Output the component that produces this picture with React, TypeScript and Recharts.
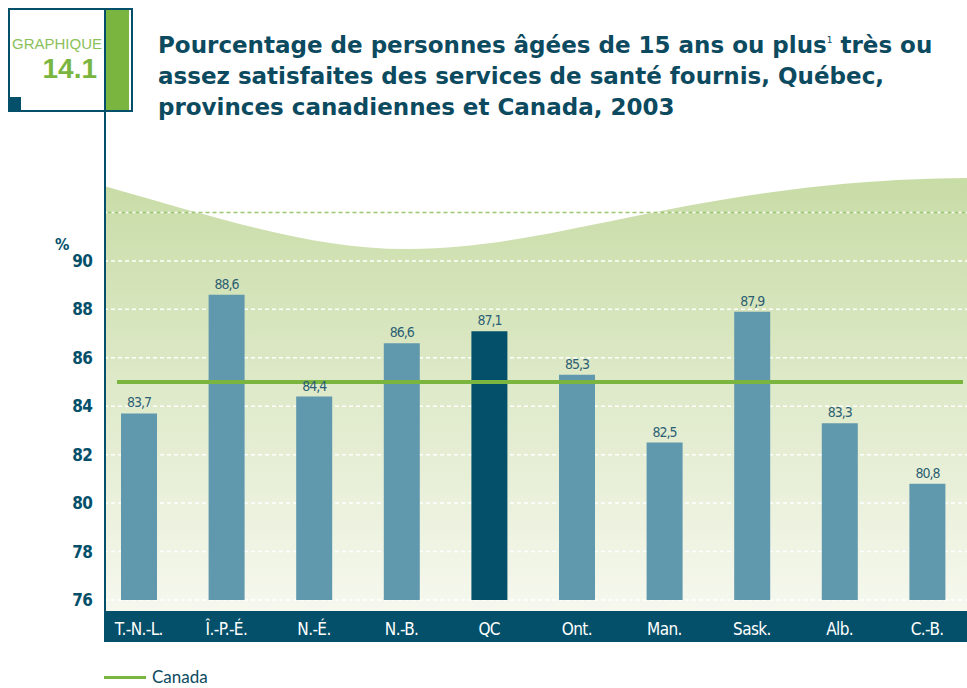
import React from "react";
import { ComposedChart, Bar, XAxis, YAxis, CartesianGrid, ReferenceLine, LabelList, Cell } from "recharts";

const categories = ["T.-N.-L.", "Î.-P.-É.", "N.-É.", "N.-B.", "QC", "Ont.", "Man.", "Sask.", "Alb.", "C.-B."];
const satisfied = [83.7, 88.6, 84.4, 86.6, 87.1, 85.3, 82.5, 87.9, 83.3, 80.8];
const CANADA = 85;
const HIGHLIGHT = "QC";
const yTicks = [76, 78, 80, 82, 84, 86, 88, 90, 92];

const data = categories.map((name, i) => ({ name, value: satisfied[i] }));

const DARK = "#04506a";
const TITLE = "#0c4a60";
const BAR = "#6098ad";
const GREEN = "#79b53f";
const narrow = "'DejaVu Sans Condensed', 'DejaVu Sans', sans-serif";
const humanist = "'DejaVu Sans', sans-serif";

const fmt = (v: number) => v.toFixed(1).replace(".", ",");

function CategoryTick(props: any) {
    const { x, y, payload } = props;
    return (
        <text x={x} y={y + 35} textAnchor="middle" fill="#ffffff" fontSize={17} letterSpacing={-0.6} fontFamily={narrow}>
            {payload.value}
        </text>
    );
}

export default function App() {
    return (
        <div style={{ position: "absolute", left: 0, top: 0, width: 967, height: 688, overflow: "hidden", background: "#fff" }}>
            {/* backdrop: wave + category band */}
            <svg width={967} height={688} style={{ position: "absolute", left: 0, top: 0 }}>
                <defs>
                    <linearGradient id="wave" x1="0" y1="178" x2="0" y2="611" gradientUnits="userSpaceOnUse">
                        <stop offset="0%" stopColor="#c8dca6" />
                        <stop offset="100%" stopColor="#f6f8ee" />
                    </linearGradient>
                </defs>
                <path d="M104,186 C230,222 320,250 410,249 C560,249 700,180 967,178 L967,611 L104,611 Z" fill="url(#wave)" />
                <rect x={104} y={611} width={863} height={31} fill={DARK} />
            </svg>

            <div style={{ position: "absolute", left: 0, top: 0 }}>
                <ComposedChart width={967} height={688} data={data} margin={{ top: 164, right: 0, bottom: 46, left: 0 }}>
                    <CartesianGrid horizontal vertical={false} stroke="#ffffff" strokeDasharray="4 3" strokeWidth={1.5} />
                    <ReferenceLine y={92} stroke="#9cc66f" strokeDasharray="4 3" strokeDashoffset={3.5} strokeWidth={1.5} />
                    <XAxis
                        dataKey="name"
                        axisLine={false}
                        tickLine={false}
                        tickSize={0}
                        tickMargin={0}
                        height={42}
                        padding={{ left: -9, right: -4 }}
                        interval={0}
                        tick={<CategoryTick />}
                    />
                    <YAxis
                        domain={[76, 94]}
                        ticks={yTicks}
                        allowDataOverflow
                        axisLine={false}
                        tickLine={false}
                        tickSize={0}
                        tickMargin={12}
                        width={104}
                        tickFormatter={(v: number) => (v === 92 ? "" : String(v))}
                        tick={{ fill: DARK, fontSize: 17, fontWeight: "bold", fontFamily: narrow, letterSpacing: -0.8 }}
                    />
                    <Bar dataKey="value" barSize={36} isAnimationActive={false}>
                        {data.map((d) => (
                            <Cell key={d.name} fill={d.name === HIGHLIGHT ? DARK : BAR} />
                        ))}
                        <LabelList
                            dataKey="value"
                            position="top"
                            offset={6}
                            formatter={(v: any) => fmt(Number(v))}
                            style={{ fill: "#2c5f73", fontSize: 14, fontFamily: narrow, letterSpacing: -1 }}
                        />
                    </Bar>
                    <ReferenceLine
                        y={CANADA}
                        shape={(p: any) => (
                            <line x1={p.x1 + 13} y1={p.y1} x2={p.x2 - 4} y2={p.y2} stroke={GREEN} strokeWidth={4} />
                        )}
                    />
                </ComposedChart>
            </div>

            {/* header box */}
            <div style={{ position: "absolute", left: 8, top: 8, width: 121, height: 100, border: `2px solid ${DARK}` }} />
            <div style={{ position: "absolute", left: 106, top: 10, width: 23, height: 100, background: GREEN }} />
            <div style={{ position: "absolute", left: 104, top: 8, width: 2, height: 634, background: DARK }} />
            <div style={{ position: "absolute", left: 8, top: 97, width: 13, height: 13, background: DARK }} />
            <div style={{ position: "absolute", left: 6, top: 35, width: 96, textAlign: "right", color: "#8cc05a", fontFamily: "'Liberation Sans', Arial, sans-serif", fontSize: 15, lineHeight: "17px" }}>
                GRAPHIQUE
            </div>
            <div style={{ position: "absolute", left: 8, top: 53, width: 89, textAlign: "right", color: GREEN, fontFamily: "'Liberation Sans', Arial, sans-serif", fontSize: 28, fontWeight: "bold", lineHeight: "32px" }}>
                14.1
            </div>

            {/* title */}
            <div style={{ position: "absolute", left: 158, top: 25, color: TITLE, fontFamily: humanist, fontSize: 23, fontWeight: "bold", lineHeight: "31px", whiteSpace: "nowrap", letterSpacing: 0 }}>
                Pourcentage de personnes âgées de 15 ans ou plus<sup style={{ fontSize: 9, fontWeight: "normal", verticalAlign: "10px" }}>1</sup> très ou
                <br />
                assez satisfaites des services de santé fournis, Québec,
                <br />
                provinces canadiennes et Canada, 2003
            </div>

            <div style={{ position: "absolute", left: 55, top: 235, color: DARK, fontFamily: narrow, fontSize: 16, fontWeight: "bold" }}>%</div>

            {/* legend */}
            <div style={{ position: "absolute", left: 104, top: 676, width: 42, height: 3, background: GREEN }} />
            <div style={{ position: "absolute", left: 152, top: 666, color: TITLE, fontFamily: "Lato, 'Open Sans', sans-serif", fontSize: 17, lineHeight: "22px" }}>Canada</div>
        </div>
    );
}
